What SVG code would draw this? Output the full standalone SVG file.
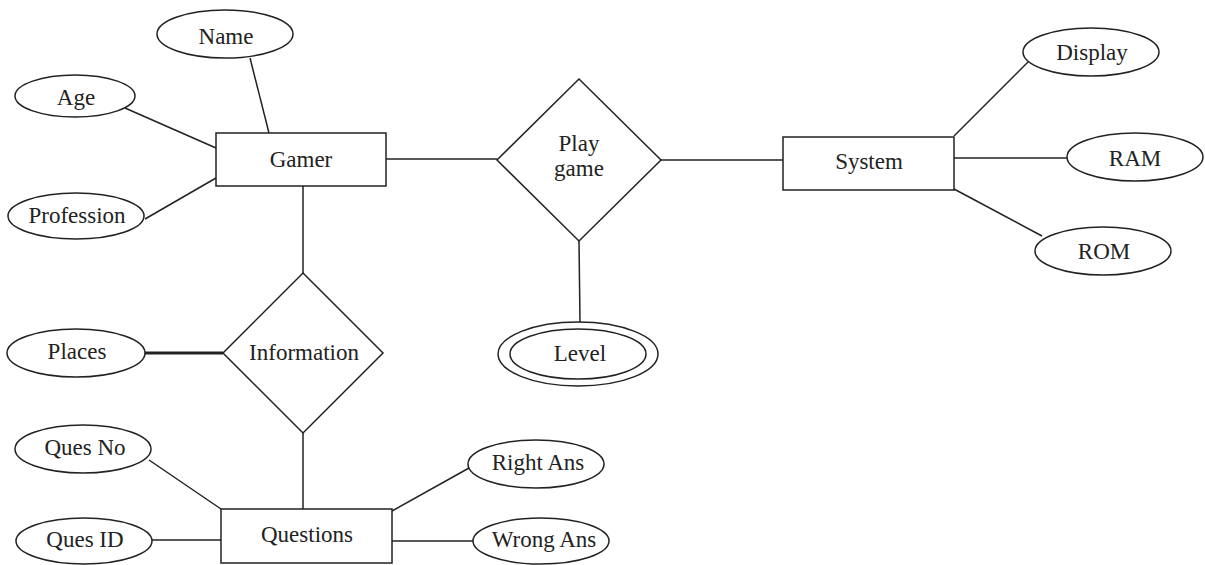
<svg xmlns="http://www.w3.org/2000/svg" width="1205" height="565" viewBox="0 0 1205 565">
<style>
.s{fill:#fff;stroke:#222;stroke-width:1.5}
.c line{stroke:#222;stroke-width:1.5}
text{font-family:"Liberation Serif","Times New Roman",serif;font-size:23px;fill:#222;text-anchor:middle}
</style>
<rect width="1205" height="565" fill="#fff"/>
<g class="c" id="connectors">
<line x1="250" y1="58" x2="269" y2="133"/>
<line x1="125" y1="108" x2="216" y2="148"/>
<line x1="145" y1="219" x2="216" y2="178"/>
<line x1="386" y1="159" x2="497" y2="159"/>
<line x1="303" y1="186" x2="303" y2="273"/>
<line x1="661" y1="160" x2="783" y2="160"/>
<line x1="579" y1="241" x2="580" y2="322"/>
<line x1="954" y1="136" x2="1028" y2="62"/>
<line x1="954" y1="158" x2="1067" y2="158"/>
<line x1="954" y1="189" x2="1042" y2="236"/>
<line x1="145" y1="353" x2="223" y2="353" style="stroke-width:3"/>
<line x1="303" y1="433" x2="303" y2="509"/>
<line x1="149" y1="460" x2="221" y2="509"/>
<line x1="152" y1="540" x2="221" y2="540"/>
<line x1="392" y1="511" x2="469" y2="468"/>
<line x1="392" y1="541" x2="473" y2="541"/>
</g>
<g id="gamer"><rect class="s" x="216" y="133" width="170" height="53"/><text x="301" y="167">Gamer</text></g>
<g id="name"><ellipse class="s" cx="225" cy="34" rx="68" ry="24"/><text x="226" y="44">Name</text></g>
<g id="age"><ellipse class="s" cx="75" cy="96" rx="60" ry="21"/><text x="76" y="105">Age</text></g>
<g id="profession"><ellipse class="s" cx="76" cy="216" rx="68" ry="23"/><text x="77" y="223">Profession</text></g>
<g id="playgame"><polygon class="s" points="579,79 661,160 579,241 497,160"/><text x="579" y="151">Play</text><text x="579" y="176">game</text></g>
<g id="level"><ellipse class="s" cx="578" cy="354" rx="80" ry="32"/><ellipse class="s" cx="578" cy="354" rx="68" ry="25"/><text x="580" y="361">Level</text></g>
<g id="system"><rect class="s" x="783" y="137" width="171" height="53"/><text x="869" y="169">System</text></g>
<g id="display"><ellipse class="s" cx="1091" cy="52" rx="68" ry="24"/><text x="1092" y="60">Display</text></g>
<g id="ram"><ellipse class="s" cx="1135" cy="157" rx="68" ry="24"/><text x="1135" y="166">RAM</text></g>
<g id="rom"><ellipse class="s" cx="1103" cy="251" rx="68" ry="24"/><text x="1104" y="259">ROM</text></g>
<g id="information"><polygon class="s" points="303,273 383,353 303,433 223,353"/><text x="304" y="360">Information</text></g>
<g id="places"><ellipse class="s" cx="76" cy="353" rx="69" ry="24"/><text x="77" y="359">Places</text></g>
<g id="questions"><rect class="s" x="221" y="509" width="171" height="54"/><text x="307" y="542">Questions</text></g>
<g id="quesno"><ellipse class="s" cx="83" cy="449" rx="68" ry="24"/><text x="85" y="455">Ques No</text></g>
<g id="quesid"><ellipse class="s" cx="84" cy="541" rx="68" ry="23"/><text x="85" y="547">Ques ID</text></g>
<g id="rightans"><ellipse class="s" cx="536" cy="464" rx="68" ry="24"/><text x="538" y="470">Right Ans</text></g>
<g id="wrongans"><ellipse class="s" cx="541" cy="541" rx="68" ry="23"/><text x="544" y="547">Wrong Ans</text></g>
</svg>
